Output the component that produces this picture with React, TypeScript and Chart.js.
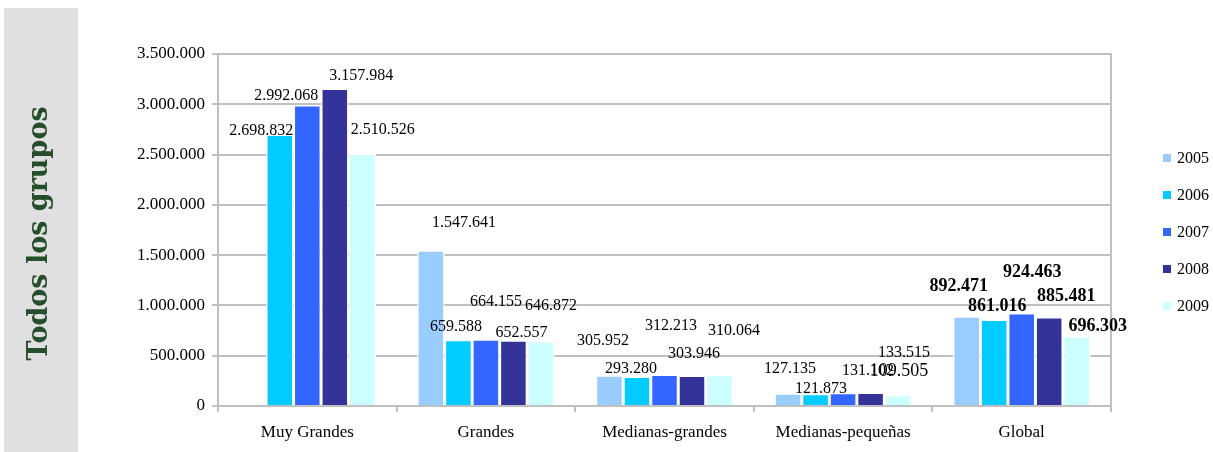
import React, { useEffect, useRef } from "react";
import { Chart, registerables } from "chart.js";

Chart.register(...registerables);

// ---- data ----
const categories = ["Muy Grandes", "Grandes", "Medianas-grandes", "Medianas-pequeñas", "Global"];
const years = ["2005", "2006", "2007", "2008", "2009"];
const s2005 = [null, 1547641, 305952, 127135, 892471];
const s2006 = [2698832, 659588, 293280, 121873, 861016];
const s2007 = [2992068, 664155, 312213, 131102, 924463];
const s2008 = [3157984, 652557, 303946, 133515, 885481];
const s2009 = [2510526, 646872, 310064, 109505, 696303];
const yTicks = [0, 500000, 1000000, 1500000, 2000000, 2500000, 3000000, 3500000];
const sideTitle = "Todos los grupos";

// ---- styling (not data) ----
const colors = ["#99ccff", "#00ccff", "#3366ff", "#333399", "#ccffff"];
// label offsets relative to bar centre / bar top [dx, dy]
const labelOffsets: number[][][] = [
  [[0, 0], [33, -23], [-6.5, -30], [2, -20], [-8, -25]],
  [[-18.5, 0], [-2.5, -9], [-6, -3.5], [5.5, -0.7], [3, -8]],
  [[-21, -5], [10, -33], [6.5, -44.6], [25, -18], [10.5, -36.5]],
  [[26.5, -8], [8, -3], [2, -17], [33.5, -36], [17, -15.5]],
  [[20.5, -20], [10, -31], [14.5, -40], [1, -18.5], [21, -4.5]],
];
const labelFonts: string[][] = [
  ["16px", "16px", "16px", "16px", "bold 18px"],
  ["16px", "16px", "16px", "16px", "bold 18px"],
  ["16px", "16px", "16px", "16px", "bold 18px"],
  ["16px", "16px", "16px", "16px", "bold 18px"],
  ["16px", "16px", "16px", "18px", "bold 18px"],
];
const SERIF = "'Liberation Serif', 'Times New Roman', serif";

const fmt = (v: number) => String(Math.round(v)).replace(/\B(?=(\d{3})+(?!\d))/g, ".");

const decorPlugin = {
  id: "decor",
  beforeDraw(chart: any) {
    const ctx = chart.ctx;
    ctx.save();
    ctx.fillStyle = "#e0e0e0";
    ctx.fillRect(4, 8, 74, 444);
    ctx.translate(47, 233.5);
    ctx.rotate(-Math.PI / 2);
    ctx.fillStyle = "#264d2c";
    ctx.font = "bold 27px 'DejaVu Serif', serif";
    ctx.textAlign = "center";
    ctx.textBaseline = "alphabetic";
    ctx.fillText(sideTitle, 0, 0);
    ctx.restore();
  },
  afterDatasetsDraw(chart: any) {
    const ctx = chart.ctx;
    const area = chart.chartArea;
    ctx.save();
    // right border of plot
    ctx.strokeStyle = "#c0c0c0";
    ctx.lineWidth = 2;
    ctx.beginPath();
    ctx.moveTo(area.right, area.top - 1);
    ctx.lineTo(area.right, area.bottom + 6);
    ctx.stroke();
    // data labels
    ctx.fillStyle = "#000";
    ctx.textAlign = "center";
    ctx.textBaseline = "alphabetic";
    chart.data.datasets.forEach((ds: any, i: number) => {
      const meta = chart.getDatasetMeta(i);
      meta.data.forEach((el: any, j: number) => {
        const v = ds.data[j];
        if (v === null || v === undefined) return;
        const [dx, dy] = labelOffsets[i][j];
        ctx.font = `${labelFonts[i][j]} ${SERIF}`;
        ctx.fillText(fmt(v), el.x + dx, el.y + dy);
      });
    });
    // legend
    ctx.textBaseline = "middle";
    ctx.textAlign = "left";
    ctx.font = `16px ${SERIF}`;
    chart.data.datasets.forEach((ds: any, i: number) => {
      const cy = 158 + i * 37;
      ctx.fillStyle = ds.backgroundColor;
      ctx.fillRect(1163, cy - 4, 8, 8);
      ctx.fillStyle = "#000";
      ctx.fillText(ds.label, 1177, cy + 1);
    });
    ctx.restore();
  },
};

export default function App() {
  const ref = useRef<HTMLCanvasElement | null>(null);
  useEffect(() => {
    if (!ref.current) return;
    const series = [s2005, s2006, s2007, s2008, s2009];
    const chart = new Chart(ref.current, {
      type: "bar",
      data: {
        labels: categories,
        datasets: series.map((d, i) => ({
          label: years[i],
          data: d as any,
          backgroundColor: colors[i],
          borderColor: "#ffffff",
          borderWidth: 1.5,
          barPercentage: 1,
          categoryPercentage: 0.77,
        })),
      },
      options: {
        animation: false,
        responsive: true,
        maintainAspectRatio: false,
        layout: { padding: { left: 80, right: 102, top: 54, bottom: 0 } },
        plugins: { legend: { display: false }, tooltip: { enabled: false } },
        scales: {
          x: {
            afterFit: (s: any) => { s.height = 46; },
            grid: { drawOnChartArea: false, drawTicks: true, tickLength: 6, color: "#c0c0c0", lineWidth: 2, offset: true },
            border: { color: "#c0c0c0", width: 2 },
            ticks: { color: "#000", font: { family: SERIF, size: 17 }, padding: 10, maxRotation: 0 },
          },
          y: {
            min: 0,
            max: 3500000,
            afterFit: (s: any) => { s.width = 138; },
            afterBuildTicks: (s: any) => { s.ticks = yTicks.map((v) => ({ value: v })); },
            grid: { color: "#c0c0c0", lineWidth: 2, tickLength: 6, drawTicks: true },
            border: { color: "#c0c0c0", width: 2 },
            ticks: { color: "#000", font: { family: SERIF, size: 17 }, padding: 7, callback: (v: any) => fmt(Number(v)) },
          },
        },
      },
      plugins: [decorPlugin],
    });
    return () => chart.destroy();
  }, []);
  return (
    <div style={{ position: "fixed", left: 0, top: 0, width: 1213, height: 452, background: "#fff" }}>
      <canvas ref={ref} />
    </div>
  );
}
